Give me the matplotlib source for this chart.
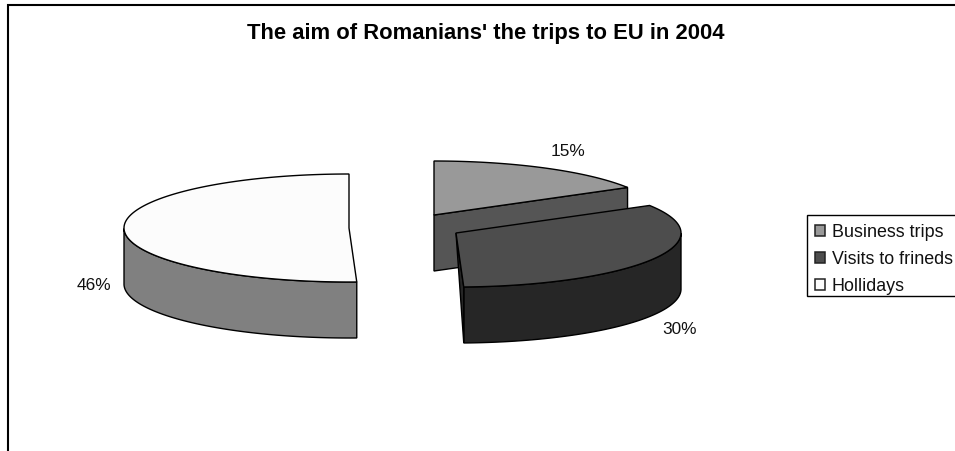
import numpy as np
import matplotlib
matplotlib.use('Agg')
import matplotlib.pyplot as plt
from matplotlib.patches import Polygon, Patch, Rectangle

plt.rcParams['font.family'] = ['Liberation Sans', 'DejaVu Sans']

title = "The aim of Romanians' the trips to EU in 2004"
categories = ['Business trips', 'Visits to frineds', 'Hollidays']
values = [15, 30, 46]

# drawing styles, one entry per slice
top_colors = ['#999999', '#4d4d4d', '#fcfcfc']
rim_colors = ['#555555', '#262626', '#808080']
centers = [(434, 215), (456, 233), (349, 228)]
label_pos = [(568, 152), (680, 330), (94, 285)]

rx, ry = 225, 54
depth = 56
lw = 1.0


def rim(center, t):
    return np.column_stack([center[0] + rx*np.sin(t), center[1] - ry*np.cos(t)])


fig = plt.figure(figsize=(9.55, 4.51), dpi=100)
ax = fig.add_axes([0, 0, 1, 1])
ax.set_xlim(0, 955)
ax.set_ylim(451, 0)
ax.axis('off')

# outer chart frame, only top and left survive the crop
ax.plot([8, 8, 955], [451, 5, 5], color='black', lw=1.5, solid_joinstyle='miter')

stops = np.cumsum([0] + values) / sum(values) * 2*np.pi

# business first, then hollidays, visits sits in front of the others
for i in [0, 2, 1]:
    c = np.array(centers[i], dtype=float)
    t = np.linspace(stops[i], stops[i+1], 200)
    edge = rim(c, t)
    down = np.array([0, depth])

    # outer wall, only the front half of the ellipse shows
    front = t[(t >= np.pi/2) & (t <= 3*np.pi/2)]
    if len(front) > 1:
        e = rim(c, front)
        ax.add_patch(Polygon(np.vstack([e, (e + down)[::-1]]), closed=True,
                             fc=rim_colors[i], ec='black', lw=lw, zorder=i+2))

    # cut faces
    if i == 0:
        ax.add_patch(Polygon([c, edge[-1], edge[-1] + down, c + down], closed=True,
                             fc=rim_colors[i], ec='black', lw=lw, zorder=i+2))
    if i == 1:
        ax.add_patch(Polygon([c, edge[-1], edge[-1] + down], closed=True,
                             fc=rim_colors[i], ec='black', lw=lw, zorder=i+2))

    ax.add_patch(Polygon(np.vstack([c, edge]), closed=True,
                         fc=top_colors[i], ec='black', lw=lw, zorder=i+2))

    ax.text(label_pos[i][0], label_pos[i][1], f'{values[i]}%', fontsize=12.4,
            ha='center', va='center', color='#111111')

ax.text(485.5, 33.5, title, fontsize=15.8, fontweight='bold', ha='center', va='center')

# legend box runs off the right edge, so it is drawn apart from the legend entries
ax.add_patch(Rectangle((807, 215), 160, 81, fc='white', ec='black', lw=1.0, zorder=6))

handles = [Patch(fc=top_colors[i], ec='#222222', lw=1.1) for i in range(3)]
leg = ax.legend(handles, categories, loc='upper left', bbox_to_anchor=(807, 216),
                bbox_transform=ax.transData, borderaxespad=0, fontsize=12.9,
                frameon=False, handlelength=0.56, handleheight=0.56, handletextpad=0.36,
                labelspacing=0.55, borderpad=0.45, labelcolor='#111111')
leg.set_zorder(7)

fig.savefig('out.png', dpi=100)
